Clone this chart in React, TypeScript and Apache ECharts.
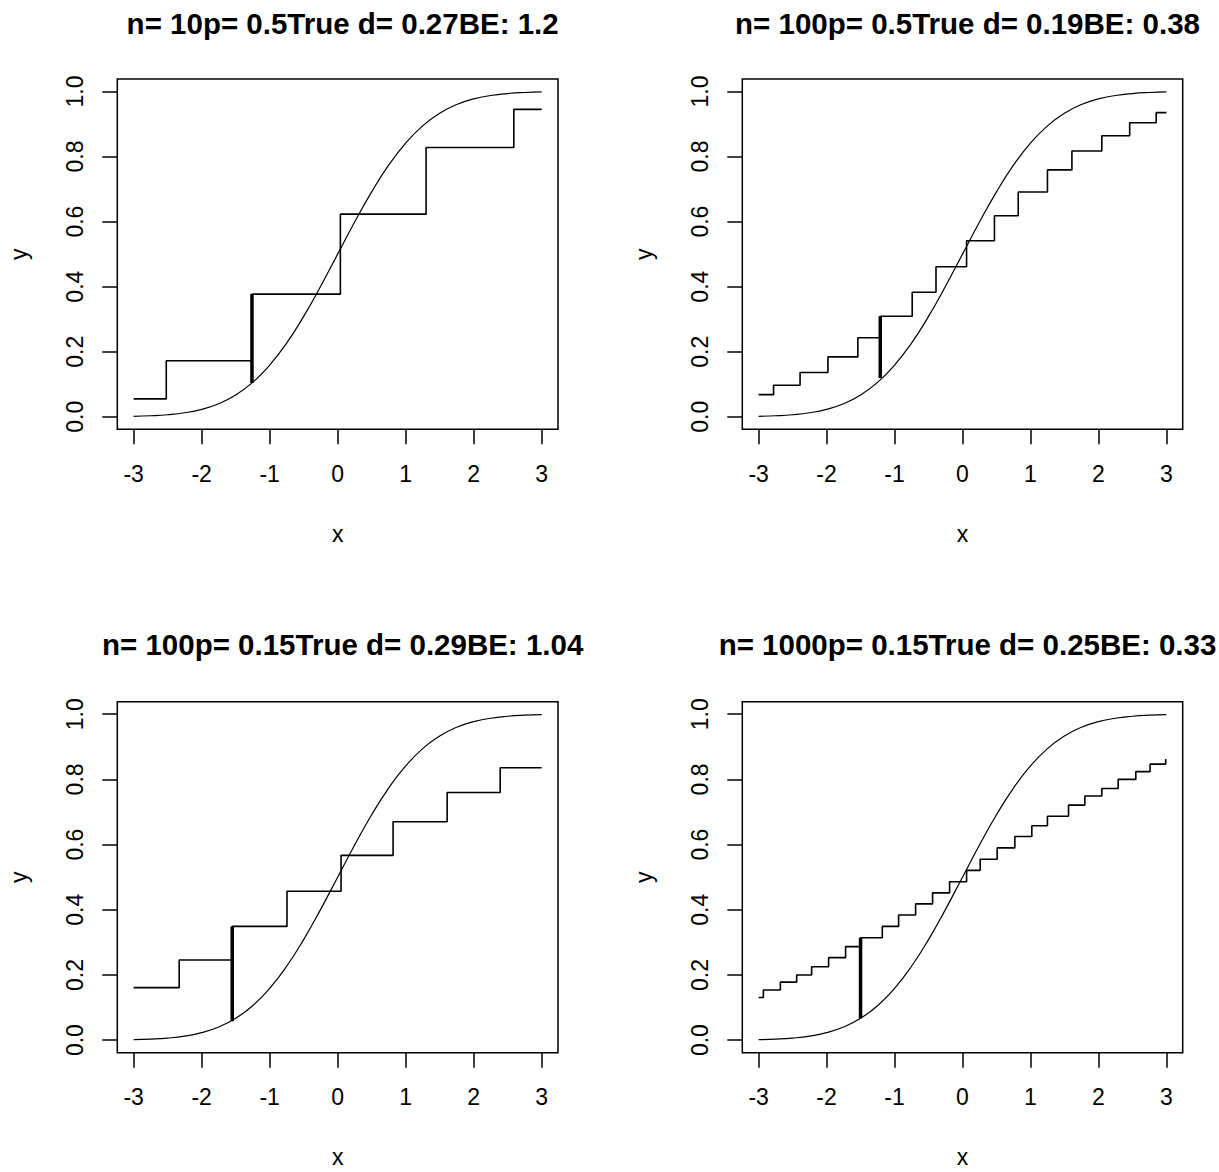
import React, { useEffect, useRef } from "react";
import * as echarts from "echarts";

// ---------- data ----------
const xTicks = [-3, -2, -1, 0, 1, 2, 3];
const yTicks = [0, 0.2, 0.4, 0.6, 0.8, 1.0];

const titles = [
  "n= 10p= 0.5True d= 0.27BE: 1.2",
  "n= 100p= 0.5True d= 0.19BE: 0.38",
  "n= 100p= 0.15True d= 0.29BE: 1.04",
  "n= 1000p= 0.15True d= 0.25BE: 0.33",
];

// normal CDF curve (same in all panels)
const curveX = [
  -3, -2.75, -2.5, -2.25, -2, -1.75, -1.5, -1.25, -1, -0.75, -0.5, -0.25, 0,
  0.25, 0.5, 0.75, 1, 1.25, 1.5, 1.75, 2, 2.25, 2.5, 2.75, 3,
];
const curveY = [
  0.0013, 0.003, 0.0062, 0.0122, 0.0228, 0.0401, 0.0668, 0.1056, 0.1587,
  0.2266, 0.3085, 0.4013, 0.5, 0.5987, 0.6915, 0.7734, 0.8413, 0.8944, 0.9332,
  0.9599, 0.9772, 0.9878, 0.9938, 0.997, 0.9987,
];

// panel 1: n=10, p=0.5
const jumps1 = [-2.52, -1.26, 0.04, 1.3, 2.59];
const levels1 = [0.055, 0.172, 0.377, 0.623, 0.828, 0.945];
const gap1 = [-1.26, 0.104, 0.377];

// panel 2: n=100, p=0.5
const jumps2 = [
  -2.78, -2.39, -1.98, -1.54, -1.21, -0.74, -0.39, 0.06, 0.47, 0.82, 1.25,
  1.61, 2.05, 2.46, 2.85,
];
const levels2 = [
  0.068, 0.097, 0.136, 0.184, 0.243, 0.309, 0.383, 0.461, 0.541, 0.618, 0.691,
  0.759, 0.817, 0.864, 0.904, 0.935,
];
const gap2 = [-1.21, 0.119, 0.309];

// panel 3: n=100, p=0.15
const jumps3 = [-2.33, -1.55, -0.745, 0.05, 0.815, 1.61, 2.39];
const levels3 = [0.161, 0.246, 0.349, 0.457, 0.567, 0.67, 0.76, 0.836];
const gap3 = [-1.55, 0.058, 0.349];

// panel 4: n=1000, p=0.15
const jumps4 = [
  -2.93, -2.68, -2.44, -2.22, -1.97, -1.72, -1.5, -1.18, -0.94, -0.69, -0.44,
  -0.19, 0.06, 0.26, 0.51, 0.77, 1.02, 1.25, 1.56, 1.8, 2.05, 2.29, 2.55, 2.76,
  2.99,
];
const levels4 = [
  0.131, 0.154, 0.178, 0.2, 0.225, 0.253, 0.287, 0.314, 0.349, 0.384, 0.418,
  0.452, 0.486, 0.521, 0.555, 0.59, 0.625, 0.658, 0.687, 0.721, 0.749, 0.772,
  0.8, 0.824, 0.847, 0.863,
];
const gap4 = [-1.5, 0.067, 0.314];

// ---------- layout ----------
const FONT = "'Liberation Sans', Arial, Helvetica, sans-serif";
const X_MIN = -3.24;
const X_MAX = 3.24;
const Y_MIN = -0.0386;
const Y_MAX = 1.0385;

const grids = [
  { left: 117.3, top: 79, width: 440.7, height: 350.3 },
  { left: 742.3, top: 79, width: 440.4, height: 350.3 },
  { left: 117.3, top: 701.7, width: 440.7, height: 351 },
  { left: 742.3, top: 701.7, width: 440.4, height: 351 },
];
const titleTops = [3, 3, 624, 624];

const panelData = [
  { jumps: jumps1, levels: levels1, gap: gap1 },
  { jumps: jumps2, levels: levels2, gap: gap2 },
  { jumps: jumps3, levels: levels3, gap: gap3 },
  { jumps: jumps4, levels: levels4, gap: gap4 },
];

function stepPoints(jumps: number[], levels: number[]) {
  const pts: number[][] = [[-3, levels[0]]];
  jumps.forEach((x, i) => {
    pts.push([x, levels[i]]);
    pts.push([x, levels[i + 1]]);
  });
  pts.push([3, levels[levels.length - 1]]);
  return pts;
}

function buildOption() {
  const title: any[] = [];
  const grid: any[] = [];
  const xAxis: any[] = [];
  const yAxis: any[] = [];
  const series: any[] = [];

  grids.forEach((g, i) => {
    grid.push({
      ...g,
      show: true,
      borderColor: "#000",
      borderWidth: 1.5,
      backgroundColor: "transparent",
      containLabel: false,
    });
    title.push({
      text: titles[i],
      left: g.left + g.width / 2,
      top: titleTops[i],
      textAlign: "center",
      textStyle: {
        fontFamily: FONT,
        fontSize: 29.5,
        fontWeight: "bold",
        color: "#000",
      },
    });
    xAxis.push({
      gridIndex: i,
      type: "value",
      min: X_MIN,
      max: X_MAX,
      position: "bottom",
      axisLine: { show: false, onZero: false },
      axisTick: {
        show: true,
        length: 15,
        customValues: xTicks,
        lineStyle: { color: "#000", width: 1.5 },
      },
      axisLabel: {
        customValues: xTicks,
        margin: 33,
        fontSize: 23,
        fontFamily: FONT,
        color: "#000",
        formatter: (v: number) => String(v),
      },
      splitLine: { show: false },
      name: "x",
      nameLocation: "middle",
      nameGap: 93,
      nameTextStyle: { fontSize: 23, fontFamily: FONT, color: "#000" },
    });
    yAxis.push({
      gridIndex: i,
      type: "value",
      min: Y_MIN,
      max: Y_MAX,
      position: "left",
      axisLine: { show: false, onZero: false },
      axisTick: {
        show: true,
        length: 15,
        customValues: yTicks,
        lineStyle: { color: "#000", width: 1.5 },
      },
      axisLabel: {
        customValues: yTicks,
        rotate: 90,
        margin: 31,
        fontSize: 23,
        fontFamily: FONT,
        color: "#000",
        formatter: (v: number) => v.toFixed(1),
      },
      splitLine: { show: false },
      name: "y",
      nameLocation: "middle",
      nameGap: 87,
      nameRotate: 90,
      nameTextStyle: { fontSize: 23, fontFamily: FONT, color: "#000" },
    });

    const pd = panelData[i];
    series.push({
      type: "line",
      xAxisIndex: i,
      yAxisIndex: i,
      data: curveX.map((x, k) => [x, curveY[k]]),
      smooth: true,
      symbol: "none",
      lineStyle: { color: "#000", width: 1.2 },
      silent: true,
    });
    series.push({
      type: "line",
      xAxisIndex: i,
      yAxisIndex: i,
      data: stepPoints(pd.jumps, pd.levels),
      symbol: "none",
      lineStyle: { color: "#000", width: 1.6 },
      silent: true,
    });
    series.push({
      type: "line",
      xAxisIndex: i,
      yAxisIndex: i,
      data: [
        [pd.gap[0], pd.gap[1]],
        [pd.gap[0], pd.gap[2]],
      ],
      symbol: "none",
      lineStyle: { color: "#000", width: 3.5 },
      silent: true,
    });
  });

  return {
    animation: false,
    backgroundColor: "#fff",
    title,
    grid,
    xAxis,
    yAxis,
    series,
  };
}

export default function App() {
  const ref = useRef<HTMLDivElement>(null);
  useEffect(() => {
    document.body.style.margin = "0";
    if (!ref.current) return;
    const chart = echarts.init(ref.current, null, { renderer: "svg" });
    chart.setOption(buildOption() as any);
    return () => chart.dispose();
  }, []);
  return <div ref={ref} style={{ width: 1219, height: 1172 }} />;
}
